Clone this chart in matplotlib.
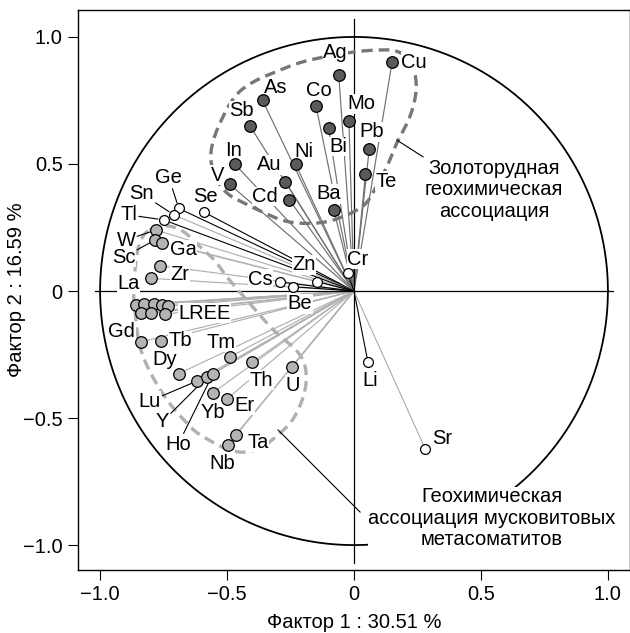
import numpy as np
import matplotlib
matplotlib.use("Agg")
import matplotlib.pyplot as plt
from matplotlib.ticker import FuncFormatter

plt.rcParams['font.family'] = ['Liberation Sans', 'DejaVu Sans']
FS = 14.5

# factor loadings (factor 1, factor 2)
gold_names = ["Ag", "Cu", "As", "Co", "Mo", "Sb", "Bi", "Pb", "In", "Ni", "Te", "V", "Au", "Cd", "Ba"]
gold_f1 = [-0.06, 0.15, -0.36, -0.15, -0.02, -0.41, -0.10, 0.06, -0.47, -0.23, 0.045, -0.49, -0.27, -0.255, -0.08]
gold_f2 = [0.85, 0.90, 0.75, 0.73, 0.67, 0.65, 0.64, 0.56, 0.50, 0.50, 0.46, 0.42, 0.43, 0.36, 0.32]

musc_names = ["W", "Sc", "Ga", "Zr", "La", "Gd", "Tb", "Tm", "Th", "U", "Dy", "Lu", "Y", "Ho",
              "Yb", "Er", "Ta", "Nb"]
musc_f1 = [-0.78, -0.785, -0.755, -0.765, -0.80, -0.84, -0.76, -0.49, -0.40, -0.245, -0.69, -0.62,
           -0.58, -0.555, -0.555, -0.50, -0.465, -0.495]
musc_f2 = [0.24, 0.20, 0.19, 0.10, 0.05, -0.20, -0.195, -0.26, -0.28, -0.30, -0.325, -0.355,
           -0.34, -0.325, -0.40, -0.425, -0.565, -0.605]

# light rare earth elements, drawn as one cluster
lree_f1 = [-0.858, -0.827, -0.787, -0.756, -0.732, -0.839, -0.799, -0.744]
lree_f2 = [-0.055, -0.051, -0.051, -0.055, -0.059, -0.087, -0.087, -0.091]

other_names = ["Cr", "Se", "Ge", "Sn", "Tl", "Cs", "Be", "Zn", "Li", "Sr"]
other_f1 = [-0.025, -0.59, -0.69, -0.71, -0.75, -0.29, -0.24, -0.145, 0.055, 0.28]
other_f2 = [0.07, 0.31, 0.325, 0.30, 0.28, 0.035, 0.017, 0.037, -0.28, -0.62]

# label offsets in pixels (dx right, dy down) and which labels get a leader line
label_off = {
    "Ag": (-3, -23), "Cu": (22, 0), "As": (13, -13), "Co": (3, -15), "Mo": (12, -17),
    "Sb": (-8, -15), "Bi": (10, 18), "Pb": (2, -17), "In": (-1, -13), "Ni": (8, -12),
    "Te": (21, 7), "V": (-12, -9), "Au": (-16, -17), "Cd": (-24, -3), "Ba": (-5, -16),
    "Cr": (10, -14), "Se": (1, -16), "Ge": (-10, -31), "Sn": (-32, -21), "Tl": (-35, -5),
    "Cs": (-20, -3), "Be": (7, 17), "Zn": (-13, -17), "Li": (2, 18), "Sr": (17, -10),
    "W": (-30, 10), "Sc": (-31, 17), "Ga": (21, 7), "Zr": (20, 9), "La": (-22, 5),
    "Gd": (-19, -10), "Tb": (19, 0), "Tm": (-9, -15), "Th": (9, 18), "U": (1, 18),
    "Dy": (-14, -14), "Lu": (-47, 20), "Y": (-44, 44), "Ho": (-35, 71), "Yb": (0, 20),
    "Er": (17, 6), "Ta": (22, 8), "Nb": (-6, 19),
}
leaders = ["Ge", "Sn", "Tl", "W", "Sc", "Lu", "Y", "Ho"]

# dashed outlines of the two associations
gold_outline = [(-0.008, 0.941), (0.083, 0.949), (0.173, 0.949), (0.228, 0.902), (0.248, 0.823),
                (0.240, 0.744), (0.213, 0.665), (0.169, 0.587), (0.134, 0.496), (0.091, 0.417),
                (0.055, 0.350), (0.016, 0.319), (-0.047, 0.291), (-0.102, 0.272), (-0.181, 0.264),
                (-0.272, 0.272), (-0.362, 0.311), (-0.441, 0.350), (-0.496, 0.378), (-0.539, 0.429),
                (-0.567, 0.508), (-0.559, 0.587), (-0.520, 0.681), (-0.469, 0.772), (-0.402, 0.823),
                (-0.311, 0.862), (-0.220, 0.898), (-0.142, 0.917)]
musc_outline = [(-0.823, 0.232), (-0.783, 0.248), (-0.736, 0.260), (-0.673, 0.240), (-0.606, 0.173),
                (-0.547, 0.122), (-0.508, 0.063), (-0.429, -0.028), (-0.362, -0.106), (-0.299, -0.173),
                (-0.232, -0.224), (-0.193, -0.280), (-0.185, -0.358), (-0.205, -0.437), (-0.244, -0.516),
                (-0.299, -0.567), (-0.362, -0.618), (-0.429, -0.638), (-0.496, -0.626), (-0.559, -0.594),
                (-0.626, -0.555), (-0.677, -0.500), (-0.732, -0.437), (-0.783, -0.358), (-0.823, -0.280),
                (-0.850, -0.201), (-0.862, -0.083), (-0.870, -0.004), (-0.862, 0.091), (-0.850, 0.181)]


def chaikin(points, n=3):
    p = np.array(points)
    for _ in range(n):
        q = np.roll(p, -1, axis=0)
        p = np.column_stack([0.75 * p + 0.25 * q, 0.25 * p + 0.75 * q]).reshape(-1, 2)
    return np.vstack([p, p[:1]])


def fmt(v, pos):
    if abs(v) < 1e-9:
        return "0"
    return f"{v:.1f}".replace("-", "\u2212")


fig = plt.figure(figsize=(6.3, 6.33), dpi=100)
ax = fig.add_axes([78 / 630, 63 / 633, 552 / 630, 560 / 633])
ax.set_xlim(-1.087, 1.087)
ax.set_ylim(-1.098, 1.106)

# unit circle and axes through origin
t = np.linspace(0, 2 * np.pi, 400)
ax.plot(np.cos(t), np.sin(t), color="black", lw=1.3, zorder=1.5)
ax.plot([-1.02, 1.02], [0, 0], color="black", lw=0.9, zorder=1.5)
ax.plot([0, 0], [-1.07, 1.07], color="black", lw=0.9, zorder=1.5)

# rays from the origin
for x, y in zip(gold_f1, gold_f2):
    ax.plot([0, x], [0, y], color="#707070", lw=0.85, zorder=1)
for x, y in zip(musc_f1 + lree_f1, musc_f2 + lree_f2):
    ax.plot([0, x], [0, y], color="#b0b0b0", lw=0.85, zorder=1)
for name, x, y in zip(other_names, other_f1, other_f2):
    c = "#aaaaaa" if name in ("Sr", "Sn") else "black"
    ax.plot([0, x], [0, y], color=c, lw=0.8, zorder=1)

# outlines
g = chaikin(gold_outline)
ax.plot(g[:, 0], g[:, 1], color="#777777", lw=2.4, ls=(0, (3.2, 1.8)), zorder=2)
m = chaikin(musc_outline)
ax.plot(m[:, 0], m[:, 1], color="#b0b0b0", lw=2.4, ls=(0, (3.2, 1.8)), zorder=2)

# points
ax.scatter(gold_f1, gold_f2, s=70, c="#5a5a5a", edgecolors="black", linewidths=0.9, zorder=4)
ax.scatter(musc_f1 + lree_f1, musc_f2 + lree_f2, s=70, c="#b4b4b4", edgecolors="black",
           linewidths=0.9, zorder=4)
ax.scatter(other_f1, other_f2, s=50, c="white", edgecolors="black", linewidths=0.9, zorder=4)

# labels
box = dict(boxstyle="square,pad=0.02", fc="white", ec="none")
all_pts = list(zip(gold_names, gold_f1, gold_f2)) + list(zip(musc_names, musc_f1, musc_f2)) \
    + list(zip(other_names, other_f1, other_f2))
for name, x, y in all_pts:
    dx, dy = label_off[name]
    kw = {}
    if name in leaders:
        kw["arrowprops"] = dict(arrowstyle="-", color="black", lw=0.8, shrinkA=1, shrinkB=4)
    ax.annotate(name, xy=(x, y), xytext=(dx, -dy), textcoords="offset pixels",
                ha="center", va="center", fontsize=FS, bbox=box, zorder=3, **kw)
ax.annotate("LREE", xy=(np.mean(lree_f1), np.mean(lree_f2)), xytext=(52, -5),
            textcoords="offset pixels", ha="center", va="center", fontsize=FS, bbox=box, zorder=3)

# group annotations
ax.plot([0.169, 0.272], [0.594, 0.528], color="black", lw=0.8, zorder=2.5)
ax.text(0.551, 0.398, "Золоторудная\nгеохимическая\nассоциация", ha="center", va="center",
        fontsize=FS, linespacing=1.15, bbox=box, zorder=3)
ax.plot([-0.299, 0.024], [-0.547, -0.870], color="black", lw=0.8, zorder=2.5)
ax.text(0.543, -0.894, "Геохимическая\nассоциация мусковитовых\nметасоматитов", ha="center",
        va="center", fontsize=FS, linespacing=1.15, bbox=box, zorder=3)

ticks = [-1.0, -0.5, 0, 0.5, 1.0]
ax.set_xticks(ticks)
ax.set_yticks(ticks)
ax.xaxis.set_major_formatter(FuncFormatter(fmt))
ax.yaxis.set_major_formatter(FuncFormatter(fmt))
ax.tick_params(direction="out", length=7, width=0.8, labelsize=FS, pad=4)
for s in ax.spines.values():
    s.set_linewidth(1.0)
ax.set_xlabel("Фактор 1 : 30.51 %", fontsize=FS)
ax.set_ylabel("Фактор 2 : 16.59 %", fontsize=FS)
ax.xaxis.set_label_coords(0.5, -0.077)
ax.yaxis.set_label_coords(-0.095, 0.5)

fig.savefig("out.png", dpi=100)
